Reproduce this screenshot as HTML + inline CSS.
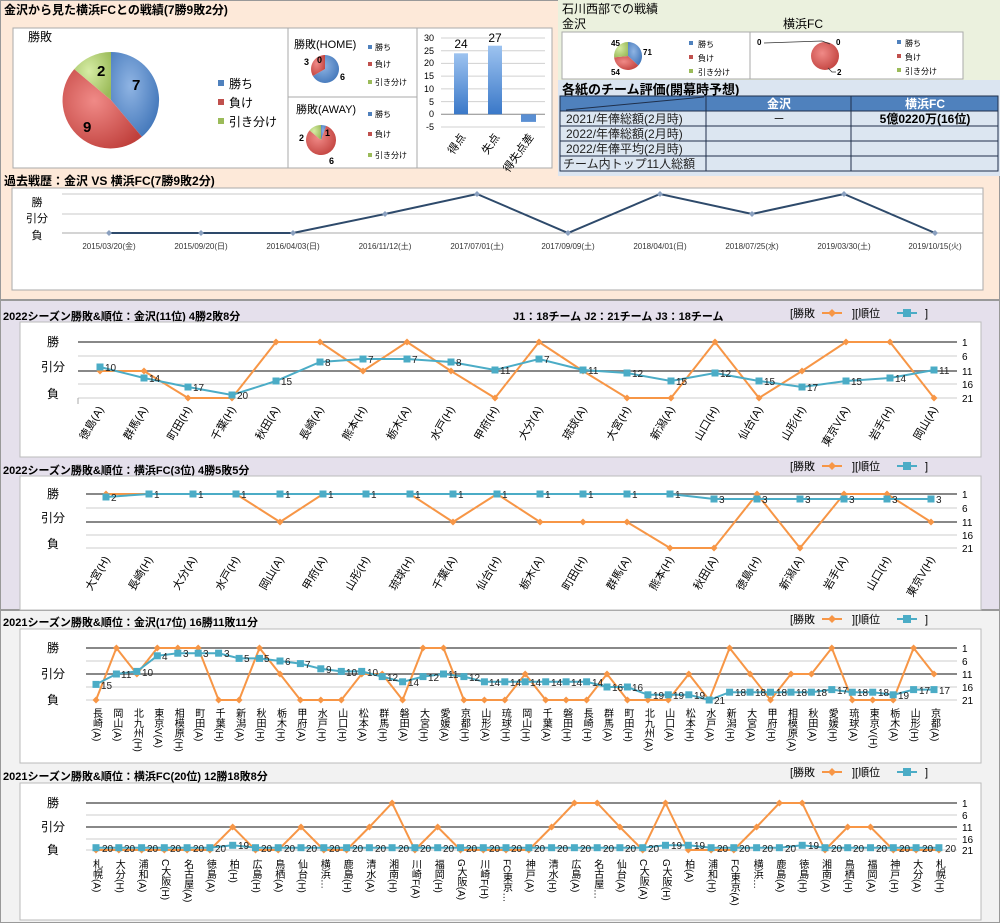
<!DOCTYPE html>
<html><head><meta charset="utf-8"><style>
html,body{margin:0;padding:0;background:#fff}
svg{display:block}
text{font-family:"Liberation Sans","Noto Sans CJK JP",sans-serif}
</style></head><body>
<svg width="1000" height="923" viewBox="0 0 1000 923" xmlns="http://www.w3.org/2000/svg">
<defs>
<marker id="dO" markerWidth="8" markerHeight="8" refX="4" refY="4" markerUnits="userSpaceOnUse"><path d="M4 0.5L7.5 4L4 7.5L0.5 4Z" fill="#f79646"/></marker>
<marker id="sB" markerWidth="8" markerHeight="8" refX="4" refY="4" markerUnits="userSpaceOnUse"><rect x="0.5" y="0.5" width="7" height="7" fill="#4bacc6"/></marker>
<marker id="dN" markerWidth="6" markerHeight="6" refX="3" refY="3" markerUnits="userSpaceOnUse"><path d="M3 0L6 3L3 6L0 3Z" fill="#8aa0bf"/></marker>
<linearGradient id="gb" x1="0" y1="0" x2="0" y2="1"><stop offset="0" stop-color="#9dc3f0"/><stop offset="1" stop-color="#3a78c8"/></linearGradient>
<radialGradient id="pb" cx="0.4" cy="0.4" r="0.7"><stop offset="0" stop-color="#8fb4e3"/><stop offset="1" stop-color="#3f74b8"/></radialGradient>
<radialGradient id="pr" cx="0.4" cy="0.4" r="0.7"><stop offset="0" stop-color="#f08a87"/><stop offset="1" stop-color="#c0403c"/></radialGradient>
<radialGradient id="pg" cx="0.4" cy="0.4" r="0.7"><stop offset="0" stop-color="#d6eca5"/><stop offset="1" stop-color="#9bbb59"/></radialGradient>
</defs>

<!-- backgrounds -->
<rect x="0" y="0" width="1000" height="300" fill="#fde9d9"/>
<rect x="0.5" y="0.5" width="999" height="299" fill="none" stroke="#999"/>
<rect x="558" y="0" width="442" height="80" fill="#ebf1de"/>
<rect x="558" y="80" width="442" height="96" fill="#dbe5f1"/>
<rect x="0" y="300" width="1000" height="310" fill="#e5e0ec"/>
<rect x="0.5" y="300.5" width="999" height="309" fill="none" stroke="#999"/>
<rect x="0" y="610" width="1000" height="313" fill="#f2f2f2"/>
<rect x="0.5" y="610.5" width="999" height="312" fill="none" stroke="#999"/>

<!-- top title -->
<text x="4" y="14" font-size="12" font-weight="bold">金沢から見た横浜FCとの戦績(7勝9敗2分)</text>

<!-- main pie -->
<rect x="13" y="28" width="275" height="140" fill="#fff" stroke="#aaa"/>
<text x="28" y="41" font-size="12">勝敗</text>
<path d="M111 100 L111 52 A48 48 0 0 1 141.9 136.8 Z" fill="url(#pb)"/>
<path d="M111 100 L141.9 136.8 A48 48 0 0 1 74.2 69.1 Z" fill="url(#pr)"/>
<path d="M111 100 L74.2 69.1 A48 48 0 0 1 111 52 Z" fill="url(#pg)"/>
<text x="132" y="90" font-size="15" font-weight="bold">7</text>
<text x="83" y="132" font-size="15" font-weight="bold">9</text>
<text x="97" y="76" font-size="15" font-weight="bold">2</text>
<rect x="218" y="80" width="6" height="6" fill="#4f81bd"/><text x="229" y="88" font-size="12">勝ち</text>
<rect x="218" y="99" width="6" height="6" fill="#c0504d"/><text x="229" y="107" font-size="12">負け</text>
<rect x="218" y="118" width="6" height="6" fill="#9bbb59"/><text x="229" y="126" font-size="12">引き分け</text>

<!-- HOME -->
<rect x="288" y="28" width="129" height="69" fill="#fff" stroke="#aaa"/>
<text x="294" y="48" font-size="11">勝敗(HOME)</text>
<path d="M325 69 L325 55 A14 14 0 1 1 312.9 76 Z" fill="url(#pb)"/>
<path d="M325 69 L312.9 76 A14 14 0 0 1 325 55 Z" fill="url(#pr)"/>
<text x="304" y="65" font-size="9" font-weight="bold">3</text><text x="317" y="63" font-size="9" font-weight="bold">0</text><text x="340" y="80" font-size="9" font-weight="bold">6</text>
<rect x="368" y="45" width="4" height="4" fill="#4f81bd"/><text x="375" y="50" font-size="8">勝ち</text>
<rect x="368" y="62" width="4" height="4" fill="#c0504d"/><text x="375" y="67" font-size="8">負け</text>
<rect x="368" y="80" width="4" height="4" fill="#9bbb59"/><text x="375" y="85" font-size="8">引き分け</text>
<!-- AWAY -->
<rect x="288" y="97" width="129" height="71" fill="#fff" stroke="#aaa"/>
<text x="296" y="113" font-size="11">勝敗(AWAY)</text>
<path d="M321 140 L321 125 A15 15 0 0 1 326.1 125.9 Z" fill="url(#pb)"/>
<path d="M321 140 L326.1 125.9 A15 15 0 1 1 309.5 130.4 Z" fill="url(#pr)"/>
<path d="M321 140 L309.5 130.4 A15 15 0 0 1 321 125 Z" fill="url(#pg)"/>
<text x="325" y="136" font-size="9" font-weight="bold">1</text><text x="299" y="141" font-size="9" font-weight="bold">2</text><text x="329" y="164" font-size="9" font-weight="bold">6</text>
<rect x="368" y="112" width="4" height="4" fill="#4f81bd"/><text x="375" y="117" font-size="8">勝ち</text>
<rect x="368" y="132" width="4" height="4" fill="#c0504d"/><text x="375" y="137" font-size="8">負け</text>
<rect x="368" y="153" width="4" height="4" fill="#9bbb59"/><text x="375" y="158" font-size="8">引き分け</text>

<!-- bar chart -->
<rect x="417" y="28" width="135" height="140" fill="#fff" stroke="#aaa"/>
<g stroke="#d0d0d0"><line x1="441" y1="38" x2="545" y2="38"/><line x1="441" y1="50.7" x2="545" y2="50.7"/><line x1="441" y1="63.4" x2="545" y2="63.4"/><line x1="441" y1="76.1" x2="545" y2="76.1"/><line x1="441" y1="88.9" x2="545" y2="88.9"/><line x1="441" y1="101.6" x2="545" y2="101.6"/><line x1="441" y1="127" x2="545" y2="127"/></g>
<line x1="441" y1="114.3" x2="545" y2="114.3" stroke="#888"/>
<g font-size="9" text-anchor="end"><text x="434" y="41">30</text><text x="434" y="54">25</text><text x="434" y="66">20</text><text x="434" y="79">15</text><text x="434" y="92">10</text><text x="434" y="105">5</text><text x="434" y="117">0</text><text x="434" y="130">-5</text></g>
<rect x="454" y="53.3" width="14" height="61" fill="url(#gb)"/>
<rect x="488" y="45.7" width="14" height="68.6" fill="url(#gb)"/>
<rect x="521" y="114.3" width="15" height="7.6" fill="#5a8fd3"/>
<text x="461" y="48" font-size="12" text-anchor="middle">24</text>
<text x="495" y="42" font-size="12" text-anchor="middle">27</text>
<g font-size="11"><text transform="translate(466,137) rotate(-55)" text-anchor="end">得点</text><text transform="translate(500,137) rotate(-55)" text-anchor="end">失点</text><text transform="translate(534,137) rotate(-55)" text-anchor="end">得失点差</text></g>

<!-- right top -->
<text x="562" y="13" font-size="12">石川西部での戦績</text>
<text x="562" y="28" font-size="12">金沢</text>
<text x="783" y="28" font-size="12">横浜FC</text>
<rect x="562" y="32" width="188" height="47" fill="#fff" stroke="#aaa"/>
<path d="M628 56 L628 42 A14 14 0 0 1 638.3 65.5 Z" fill="url(#pb)"/>
<path d="M628 56 L638.3 65.5 A14 14 0 0 1 614.1 57.4 Z" fill="url(#pr)"/>
<path d="M628 56 L614.1 57.4 A14 14 0 0 1 628 42 Z" fill="url(#pg)"/>
<g font-size="8" font-weight="bold"><text x="611" y="46">45</text><text x="643" y="55">71</text><text x="611" y="75">54</text></g>
<rect x="689" y="41" width="4" height="4" fill="#4f81bd"/><text x="698" y="47" font-size="8">勝ち</text>
<rect x="689" y="55" width="4" height="4" fill="#c0504d"/><text x="698" y="61" font-size="8">負け</text>
<rect x="689" y="69" width="4" height="4" fill="#9bbb59"/><text x="698" y="75" font-size="8">引き分け</text>
<rect x="750" y="32" width="213" height="47" fill="#fff" stroke="#aaa"/>
<circle cx="825" cy="56" r="14" fill="url(#pr)"/>
<polyline points="764,43 822,41 830,44" fill="none" stroke="#333" stroke-width="0.8"/>
<polyline points="828,68 832,72 836,72" fill="none" stroke="#333" stroke-width="0.8"/>
<g font-size="8" font-weight="bold"><text x="757" y="45">0</text><text x="836" y="45">0</text><text x="837" y="75">2</text></g>
<rect x="897" y="40" width="4" height="4" fill="#4f81bd"/><text x="905" y="46" font-size="8">勝ち</text>
<rect x="897" y="54" width="4" height="4" fill="#c0504d"/><text x="905" y="60" font-size="8">負け</text>
<rect x="897" y="68" width="4" height="4" fill="#9bbb59"/><text x="905" y="74" font-size="8">引き分け</text>

<text x="562" y="94" font-size="13" font-weight="bold">各紙のチーム評価(開幕時予想)</text>
<rect x="560" y="96" width="438" height="15" fill="#4f81bd"/>
<rect x="560" y="111" width="438" height="60" fill="#dce6f1"/>
<g stroke="#1f2f4a" stroke-width="1" fill="none">
<rect x="560" y="96" width="438" height="75"/>
<line x1="560" y1="111" x2="998" y2="111"/><line x1="560" y1="126" x2="998" y2="126"/><line x1="560" y1="141" x2="998" y2="141"/><line x1="560" y1="156" x2="998" y2="156"/>
<line x1="706" y1="96" x2="706" y2="171"/><line x1="851" y1="96" x2="851" y2="171"/>
<line x1="566" y1="110" x2="704" y2="97"/>
</g>
<text x="779" y="108" font-size="12" font-weight="bold" fill="#fff" text-anchor="middle">金沢</text>
<text x="925" y="108" font-size="12" font-weight="bold" fill="#fff" text-anchor="middle">横浜FC</text>
<g font-size="12" fill="#222"><text x="566" y="123">2021/年俸総額(2月時)</text><text x="566" y="138">2022/年俸総額(2月時)</text><text x="566" y="153">2022/年俸平均(2月時)</text><text x="563" y="168">チーム内トップ11人総額</text></g>
<text x="779" y="123" font-size="12" text-anchor="middle">－</text>
<text x="925" y="123" font-size="12" font-weight="bold" text-anchor="middle">5億0220万(16位)</text>

<!-- history line -->
<text x="4" y="185" font-size="12" font-weight="bold">過去戦歴：金沢 VS 横浜FC(7勝9敗2分)</text>
<rect x="12" y="188" width="971" height="102" fill="#fff" stroke="#aaa"/>
<g stroke="#c8c8c8"><line x1="62" y1="194" x2="983" y2="194"/><line x1="62" y1="214" x2="983" y2="214"/></g>
<line x1="62" y1="233" x2="983" y2="233" stroke="#aaa"/>
<text x="37" y="206" font-size="11" text-anchor="middle">勝</text>
<text x="37" y="222" font-size="11" text-anchor="middle">引分</text>
<text x="37" y="239" font-size="11" text-anchor="middle">負</text>
<polyline points="109,233 201,233 293,233 385,214 477,194 568,233 660,194 752,214 844,194 935,233" fill="none" stroke="#2e4a6b" stroke-width="2" marker-start="url(#dN)" marker-mid="url(#dN)" marker-end="url(#dN)"/>
<g font-size="8" text-anchor="middle" fill="#333"><text x="109" y="249">2015/03/20(金)</text><text x="201" y="249">2015/09/20(日)</text><text x="293" y="249">2016/04/03(日)</text><text x="385" y="249">2016/11/12(土)</text><text x="477" y="249">2017/07/01(土)</text><text x="568" y="249">2017/09/09(土)</text><text x="660" y="249">2018/04/01(日)</text><text x="752" y="249">2018/07/25(水)</text><text x="844" y="249">2019/03/30(土)</text><text x="935" y="249">2019/10/15(火)</text></g>

<!-- ===== 2022 Kanazawa ===== -->
<text x="3" y="320" font-size="11" font-weight="bold">2022シーズン勝敗&amp;順位：金沢(11位) 4勝2敗8分</text>
<text x="513" y="320" font-size="11" font-weight="bold">J1：18チーム  J2：21チーム  J3：18チーム</text>
<g font-size="11"><text x="790" y="317">[勝敗</text><line x1="822" y1="313" x2="842" y2="313" stroke="#f79646" stroke-width="2"/><path d="M832 309L836 313L832 317L828 313Z" fill="#f79646"/><text x="852" y="317">][順位</text><line x1="897" y1="313" x2="917" y2="313" stroke="#4bacc6" stroke-width="2"/><rect x="903" y="309" width="8" height="8" fill="#4bacc6"/><text x="925" y="317">]</text></g>
<rect x="20" y="322" width="961" height="135" fill="#fff" stroke="#bbb"/>
<g stroke="#ccc"><line x1="78" y1="356" x2="957" y2="356"/><line x1="78" y1="384" x2="957" y2="384"/><line x1="78" y1="398" x2="957" y2="398"/></g>
<g stroke="#888" stroke-width="2"><line x1="78" y1="342" x2="957" y2="342"/><line x1="78" y1="371" x2="957" y2="371"/></g>
<g font-size="12" text-anchor="middle"><text x="53" y="346">勝</text><text x="53" y="371">引分</text><text x="53" y="398">負</text></g>
<g font-size="10"><text x="962" y="346">1</text><text x="962" y="360">6</text><text x="962" y="375">11</text><text x="962" y="388">16</text><text x="962" y="402">21</text></g>
<polyline points="100,371 144,371 188,398 232,398 276,342 320,342 363,371 407,342 451,371 495,398 539,342 583,371 627,398 671,398 715,342 759,398 802,371 846,342 890,342 934,398" fill="none" stroke="#f79646" stroke-width="2" marker-start="url(#dO)" marker-mid="url(#dO)" marker-end="url(#dO)"/>
<polyline points="100,367 144,378 188,387 232,395 276,381 320,362 363,359 407,359 451,362 495,370 539,359 583,370 627,373 671,381 715,373 759,381 802,387 846,381 890,378 934,370" fill="none" stroke="#4bacc6" stroke-width="2" marker-start="url(#sB)" marker-mid="url(#sB)" marker-end="url(#sB)"/>
<g font-size="10" fill="#222"><text x="105" y="371">10</text><text x="149" y="382">14</text><text x="193" y="391">17</text><text x="237" y="399">20</text><text x="281" y="385">15</text><text x="325" y="366">8</text><text x="368" y="363">7</text><text x="412" y="363">7</text><text x="456" y="366">8</text><text x="500" y="374">11</text><text x="544" y="363">7</text><text x="588" y="374">11</text><text x="632" y="377">12</text><text x="676" y="385">15</text><text x="720" y="377">12</text><text x="764" y="385">15</text><text x="807" y="391">17</text><text x="851" y="385">15</text><text x="895" y="382">14</text><text x="939" y="374">11</text></g>
<g stroke="#aaa"><line x1="78" y1="398" x2="78" y2="404"/></g>
<g font-size="11" text-anchor="end">
<text transform="translate(104,409) rotate(-60)">徳島(A)</text><text transform="translate(148,409) rotate(-60)">群馬(A)</text><text transform="translate(192,409) rotate(-60)">町田(H)</text><text transform="translate(236,409) rotate(-60)">千葉(H)</text><text transform="translate(280,409) rotate(-60)">秋田(A)</text><text transform="translate(324,409) rotate(-60)">長崎(A)</text><text transform="translate(367,409) rotate(-60)">熊本(H)</text><text transform="translate(411,409) rotate(-60)">栃木(A)</text><text transform="translate(455,409) rotate(-60)">水戸(H)</text><text transform="translate(499,409) rotate(-60)">甲府(H)</text><text transform="translate(543,409) rotate(-60)">大分(A)</text><text transform="translate(587,409) rotate(-60)">琉球(A)</text><text transform="translate(631,409) rotate(-60)">大宮(H)</text><text transform="translate(675,409) rotate(-60)">新潟(A)</text><text transform="translate(719,409) rotate(-60)">山口(H)</text><text transform="translate(763,409) rotate(-60)">仙台(A)</text><text transform="translate(806,409) rotate(-60)">山形(H)</text><text transform="translate(850,409) rotate(-60)">東京V(A)</text><text transform="translate(894,409) rotate(-60)">岩手(H)</text><text transform="translate(938,409) rotate(-60)">岡山(A)</text>
</g>

<!-- ===== 2022 Yokohama ===== -->
<text x="3" y="474" font-size="11" font-weight="bold">2022シーズン勝敗&amp;順位：横浜FC(3位) 4勝5敗5分</text>
<g font-size="11"><text x="790" y="470">[勝敗</text><line x1="822" y1="466" x2="842" y2="466" stroke="#f79646" stroke-width="2"/><path d="M832 462L836 466L832 470L828 466Z" fill="#f79646"/><text x="852" y="470">][順位</text><line x1="897" y1="466" x2="917" y2="466" stroke="#4bacc6" stroke-width="2"/><rect x="903" y="462" width="8" height="8" fill="#4bacc6"/><text x="925" y="470">]</text></g>
<rect x="20" y="476" width="961" height="134" fill="#fff" stroke="#bbb"/>
<g stroke="#ccc"><line x1="86" y1="508" x2="957" y2="508"/><line x1="86" y1="535" x2="957" y2="535"/><line x1="86" y1="548" x2="957" y2="548"/></g>
<g stroke="#888" stroke-width="2"><line x1="86" y1="494" x2="957" y2="494"/><line x1="86" y1="522" x2="957" y2="522"/></g>
<g font-size="12" text-anchor="middle"><text x="53" y="498">勝</text><text x="53" y="522">引分</text><text x="53" y="548">負</text></g>
<g font-size="10"><text x="962" y="498">1</text><text x="962" y="512">6</text><text x="962" y="526">11</text><text x="962" y="539">16</text><text x="962" y="552">21</text></g>
<polyline points="106,494 149,494 193,494 236,494 280,522 323,494 366,494 410,494 453,522 497,494 540,522 583,522 627,522 670,548 714,548 757,494 800,548 844,494 887,494 931,522" fill="none" stroke="#f79646" stroke-width="2" marker-start="url(#dO)" marker-mid="url(#dO)" marker-end="url(#dO)"/>
<polyline points="106,497 149,494 193,494 236,494 280,494 323,494 366,494 410,494 453,494 497,494 540,494 583,494 627,494 670,494 714,499 757,499 800,499 844,499 887,499 931,499" fill="none" stroke="#4bacc6" stroke-width="2" marker-start="url(#sB)" marker-mid="url(#sB)" marker-end="url(#sB)"/>
<g font-size="10" fill="#222"><text x="111" y="501">2</text><text x="154" y="498">1</text><text x="198" y="498">1</text><text x="241" y="498">1</text><text x="285" y="498">1</text><text x="328" y="498">1</text><text x="371" y="498">1</text><text x="415" y="498">1</text><text x="458" y="498">1</text><text x="502" y="498">1</text><text x="545" y="498">1</text><text x="588" y="498">1</text><text x="632" y="498">1</text><text x="675" y="498">1</text><text x="719" y="503">3</text><text x="762" y="503">3</text><text x="805" y="503">3</text><text x="849" y="503">3</text><text x="892" y="503">3</text><text x="936" y="503">3</text></g>
<g font-size="11" text-anchor="end">
<text transform="translate(110,559) rotate(-60)">大宮(H)</text><text transform="translate(153,559) rotate(-60)">長崎(H)</text><text transform="translate(197,559) rotate(-60)">大分(A)</text><text transform="translate(240,559) rotate(-60)">水戸(H)</text><text transform="translate(284,559) rotate(-60)">岡山(A)</text><text transform="translate(327,559) rotate(-60)">甲府(A)</text><text transform="translate(370,559) rotate(-60)">山形(H)</text><text transform="translate(414,559) rotate(-60)">琉球(H)</text><text transform="translate(457,559) rotate(-60)">千葉(A)</text><text transform="translate(501,559) rotate(-60)">仙台(H)</text><text transform="translate(544,559) rotate(-60)">栃木(A)</text><text transform="translate(587,559) rotate(-60)">町田(H)</text><text transform="translate(631,559) rotate(-60)">群馬(A)</text><text transform="translate(674,559) rotate(-60)">熊本(H)</text><text transform="translate(718,559) rotate(-60)">秋田(A)</text><text transform="translate(761,559) rotate(-60)">徳島(H)</text><text transform="translate(804,559) rotate(-60)">新潟(A)</text><text transform="translate(848,559) rotate(-60)">岩手(A)</text><text transform="translate(891,559) rotate(-60)">山口(H)</text><text transform="translate(935,559) rotate(-60)">東京V(H)</text>
</g>

<!-- ===== 2021 Kanazawa ===== -->
<text x="3" y="626" font-size="11" font-weight="bold">2021シーズン勝敗&amp;順位：金沢(17位) 16勝11敗11分</text>
<g font-size="11"><text x="790" y="623">[勝敗</text><line x1="822" y1="619" x2="842" y2="619" stroke="#f79646" stroke-width="2"/><path d="M832 615L836 619L832 623L828 619Z" fill="#f79646"/><text x="852" y="623">][順位</text><line x1="897" y1="619" x2="917" y2="619" stroke="#4bacc6" stroke-width="2"/><rect x="903" y="615" width="8" height="8" fill="#4bacc6"/><text x="925" y="623">]</text></g>
<rect x="20" y="629" width="961" height="134" fill="#fff" stroke="#bbb"/>
<g stroke="#ccc"><line x1="86" y1="661" x2="957" y2="661"/><line x1="86" y1="687" x2="957" y2="687"/><line x1="86" y1="700" x2="957" y2="700"/></g>
<g stroke="#888" stroke-width="2"><line x1="86" y1="648" x2="957" y2="648"/><line x1="86" y1="674" x2="957" y2="674"/></g>
<g font-size="12" text-anchor="middle"><text x="53" y="652">勝</text><text x="53" y="678">引分</text><text x="53" y="704">負</text></g>
<g font-size="10"><text x="962" y="652">1</text><text x="962" y="665">6</text><text x="962" y="678">11</text><text x="962" y="691">16</text><text x="962" y="704">21</text></g>
<polyline points="96,700 116.4,648 136.9,674 157.3,648 177.8,648 198.2,648 218.6,700 239.1,700 259.5,648 280,674 300.4,700 320.8,700 341.3,700 361.7,674 382.2,674 402.6,700 423,648 443.5,648 463.9,700 484.4,700 504.8,700 525.2,674 545.7,700 566.1,700 586.6,700 607,674 627.4,700 647.9,700 668.3,700 688.8,674 709.2,700 729.6,648 750.1,674 770.5,700 791,674 811.4,674 831.8,648 852.3,700 872.7,700 893.2,700 913.6,648 934,674" fill="none" stroke="#f79646" stroke-width="2" marker-start="url(#dO)" marker-mid="url(#dO)" marker-end="url(#dO)"/>
<polyline points="96,684.4 116.4,674 136.9,671.4 157.3,655.8 177.8,653.2 198.2,653.2 218.6,653.2 239.1,658.4 259.5,658.4 280,661 300.4,663.6 320.8,668.8 341.3,671.4 361.7,671.4 382.2,676.6 402.6,681.8 423,676.6 443.5,674 463.9,676.6 484.4,681.8 504.8,681.8 525.2,681.8 545.7,681.8 566.1,681.8 586.6,681.8 607,687 627.4,687 647.9,694.8 668.3,694.8 688.8,694.8 709.2,700 729.6,692.2 750.1,692.2 770.5,692.2 791,692.2 811.4,692.2 831.8,689.6 852.3,692.2 872.7,692.2 893.2,694.8 913.6,689.6 934,689.6" fill="none" stroke="#4bacc6" stroke-width="2" marker-start="url(#sB)" marker-mid="url(#sB)" marker-end="url(#sB)"/>
<g font-size="10" fill="#222"><text x="101" y="689">15</text><text x="121" y="678">11</text><text x="142" y="676">10</text><text x="162" y="660">4</text><text x="183" y="657">3</text><text x="203" y="657">3</text><text x="224" y="657">3</text><text x="244" y="662">5</text><text x="264" y="662">5</text><text x="285" y="665">6</text><text x="305" y="668">7</text><text x="326" y="673">9</text><text x="346" y="676">10</text><text x="367" y="676">10</text><text x="387" y="681">12</text><text x="408" y="686">14</text><text x="428" y="681">12</text><text x="448" y="678">11</text><text x="469" y="681">12</text><text x="489" y="686">14</text><text x="510" y="686">14</text><text x="530" y="686">14</text><text x="551" y="686">14</text><text x="571" y="686">14</text><text x="592" y="686">14</text><text x="612" y="691">16</text><text x="632" y="691">16</text><text x="653" y="699">19</text><text x="673" y="699">19</text><text x="694" y="699">19</text><text x="714" y="704">21</text><text x="735" y="696">18</text><text x="755" y="696">18</text><text x="776" y="696">18</text><text x="796" y="696">18</text><text x="816" y="696">18</text><text x="837" y="694">17</text><text x="857" y="696">18</text><text x="878" y="696">18</text><text x="898" y="699">19</text><text x="919" y="694">17</text><text x="939" y="694">17</text></g>
<g font-size="10" style="writing-mode:vertical-rl" writing-mode="tb">
<text x="96" y="708">長崎(A)</text><text x="116.4" y="708">岡山(A)</text><text x="136.9" y="708">北九州(H)</text><text x="157.3" y="708">東京V(A)</text><text x="177.8" y="708">相模原(H)</text><text x="198.2" y="708">町田(A)</text><text x="218.6" y="708">千葉(H)</text><text x="239.1" y="708">新潟(A)</text><text x="259.5" y="708">秋田(H)</text><text x="280" y="708">栃木(H)</text><text x="300.4" y="708">甲府(A)</text><text x="320.8" y="708">水戸(H)</text><text x="341.3" y="708">山口(H)</text><text x="361.7" y="708">松本(A)</text><text x="382.2" y="708">群馬(H)</text><text x="402.6" y="708">磐田(A)</text><text x="423" y="708">大宮(H)</text><text x="443.5" y="708">愛媛(A)</text><text x="463.9" y="708">京都(H)</text><text x="484.4" y="708">山形(A)</text><text x="504.8" y="708">琉球(H)</text><text x="525.2" y="708">岡山(H)</text><text x="545.7" y="708">千葉(A)</text><text x="566.1" y="708">磐田(H)</text><text x="586.6" y="708">長崎(H)</text><text x="607" y="708">群馬(A)</text><text x="627.4" y="708">町田(H)</text><text x="647.9" y="708">北九州(A)</text><text x="668.3" y="708">山口(A)</text><text x="688.8" y="708">松本(H)</text><text x="709.2" y="708">水戸(A)</text><text x="729.6" y="708">新潟(H)</text><text x="750.1" y="708">大宮(A)</text><text x="770.5" y="708">甲府(H)</text><text x="791" y="708">相模原(A)</text><text x="811.4" y="708">秋田(A)</text><text x="831.8" y="708">愛媛(H)</text><text x="852.3" y="708">琉球(A)</text><text x="872.7" y="708">東京V(H)</text><text x="893.2" y="708">栃木(A)</text><text x="913.6" y="708">山形(H)</text><text x="934" y="708">京都(A)</text>
</g>

<!-- ===== 2021 Yokohama ===== -->
<text x="3" y="780" font-size="11" font-weight="bold">2021シーズン勝敗&amp;順位：横浜FC(20位) 12勝18敗8分</text>
<g font-size="11"><text x="790" y="776">[勝敗</text><line x1="822" y1="772" x2="842" y2="772" stroke="#f79646" stroke-width="2"/><path d="M832 768L836 772L832 776L828 772Z" fill="#f79646"/><text x="852" y="776">][順位</text><line x1="897" y1="772" x2="917" y2="772" stroke="#4bacc6" stroke-width="2"/><rect x="903" y="768" width="8" height="8" fill="#4bacc6"/><text x="925" y="776">]</text></g>
<rect x="20" y="783" width="961" height="137" fill="#fff" stroke="#bbb"/>
<g stroke="#ccc"><line x1="86" y1="815" x2="957" y2="815"/><line x1="86" y1="839" x2="957" y2="839"/><line x1="86" y1="850" x2="957" y2="850"/></g>
<g stroke="#888" stroke-width="2"><line x1="86" y1="803" x2="957" y2="803"/><line x1="86" y1="827" x2="957" y2="827"/></g>
<g font-size="12" text-anchor="middle"><text x="53" y="807">勝</text><text x="53" y="831">引分</text><text x="53" y="854">負</text></g>
<g font-size="10"><text x="962" y="807">1</text><text x="962" y="819">6</text><text x="962" y="831">11</text><text x="962" y="843">16</text><text x="962" y="854">21</text></g>
<polyline points="96,850 118.8,850 141.6,850 164.3,850 187.1,850 209.9,850 232.7,827 255.5,850 278.2,850 301,827 323.8,850 346.6,850 369.4,827 392.1,803 414.9,850 437.7,827 460.5,850 483.3,850 506,850 528.8,850 551.6,827 574.4,803 597.2,803 619.9,827 642.7,850 665.5,803 688.3,850 711.1,850 733.8,850 756.6,827 779.4,803 802.2,803 825,850 847.7,827 870.5,827 893.3,850 916.1,850 938.9,850" fill="none" stroke="#f79646" stroke-width="2" marker-start="url(#dO)" marker-mid="url(#dO)" marker-end="url(#dO)"/>
<polyline points="96,847.7 118.8,847.7 141.6,847.7 164.3,847.7 187.1,847.7 209.9,847.7 232.7,845.3 255.5,847.7 278.2,847.7 301,847.7 323.8,847.7 346.6,847.7 369.4,847.7 392.1,847.7 414.9,847.7 437.7,847.7 460.5,847.7 483.3,847.7 506,847.7 528.8,847.7 551.6,847.7 574.4,847.7 597.2,847.7 619.9,847.7 642.7,847.7 665.5,845.3 688.3,845.3 711.1,847.7 733.8,847.7 756.6,847.7 779.4,847.7 802.2,845.3 825,847.7 847.7,847.7 870.5,847.7 893.3,847.7 916.1,847.7 938.9,847.7" fill="none" stroke="#4bacc6" stroke-width="2" marker-start="url(#sB)" marker-mid="url(#sB)" marker-end="url(#sB)"/>
<g font-size="10" fill="#222"><text x="102" y="852">20</text><text x="124" y="852">20</text><text x="147" y="852">20</text><text x="170" y="852">20</text><text x="193" y="852">20</text><text x="215" y="852">20</text><text x="238" y="849">19</text><text x="261" y="852">20</text><text x="284" y="852">20</text><text x="306" y="852">20</text><text x="329" y="852">20</text><text x="352" y="852">20</text><text x="375" y="852">20</text><text x="398" y="852">20</text><text x="420" y="852">20</text><text x="443" y="852">20</text><text x="466" y="852">20</text><text x="489" y="852">20</text><text x="511" y="852">20</text><text x="534" y="852">20</text><text x="557" y="852">20</text><text x="580" y="852">20</text><text x="603" y="852">20</text><text x="625" y="852">20</text><text x="648" y="852">20</text><text x="671" y="849">19</text><text x="694" y="849">19</text><text x="717" y="852">20</text><text x="739" y="852">20</text><text x="762" y="852">20</text><text x="785" y="852">20</text><text x="808" y="849">19</text><text x="831" y="852">20</text><text x="853" y="852">20</text><text x="876" y="852">20</text><text x="899" y="852">20</text><text x="922" y="852">20</text><text x="945" y="852">20</text></g>
<g font-size="10" style="writing-mode:vertical-rl" writing-mode="tb">
<text x="96" y="859">札幌(A)</text><text x="118.8" y="859">大分(H)</text><text x="141.6" y="859">浦和(A)</text><text x="164.3" y="859">C大阪(H)</text><text x="187.1" y="859">名古屋(A)</text><text x="209.9" y="859">徳島(A)</text><text x="232.7" y="859">柏(H)</text><text x="255.5" y="859">広島(H)</text><text x="278.2" y="859">鳥栖(A)</text><text x="301" y="859">仙台(H)</text><text x="323.8" y="859">横浜…</text><text x="346.6" y="859">鹿島(H)</text><text x="369.4" y="859">清水(A)</text><text x="392.1" y="859">湘南(H)</text><text x="414.9" y="859">川崎F(A)</text><text x="437.7" y="859">福岡(H)</text><text x="460.5" y="859">G大阪(A)</text><text x="483.3" y="859">川崎F(H)</text><text x="506" y="859">FC東京…</text><text x="528.8" y="859">神戸(A)</text><text x="551.6" y="859">清水(H)</text><text x="574.4" y="859">広島(A)</text><text x="597.2" y="859">名古屋…</text><text x="619.9" y="859">仙台(A)</text><text x="642.7" y="859">C大阪(A)</text><text x="665.5" y="859">G大阪(H)</text><text x="688.3" y="859">柏(A)</text><text x="711.1" y="859">浦和(H)</text><text x="733.8" y="859">FC東京(A)</text><text x="756.6" y="859">横浜…</text><text x="779.4" y="859">鹿島(A)</text><text x="802.2" y="859">徳島(H)</text><text x="825" y="859">湘南(A)</text><text x="847.7" y="859">鳥栖(H)</text><text x="870.5" y="859">福岡(A)</text><text x="893.3" y="859">神戸(H)</text><text x="916.1" y="859">大分(A)</text><text x="938.9" y="859">札幌(H)</text>
</g>
</svg>
</body></html>
